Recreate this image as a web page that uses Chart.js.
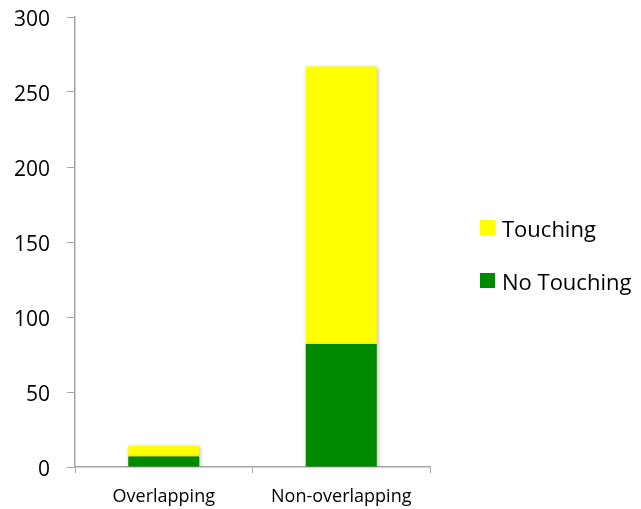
<!DOCTYPE html>
<html>
<head>
<meta charset="utf-8">
<script src="https://cdn.jsdelivr.net/npm/chart.js@4/dist/chart.umd.min.js"></script>
<style>
  html, body { margin: 0; padding: 0; background: #ffffff; }
  #wrap { width: 641px; height: 509px; }
</style>
</head>
<body>
<div id="wrap"><canvas id="c" width="641" height="509"></canvas></div>
<script>
// Categories and stacked counts
const categories = ['Overlapping', 'Non-overlapping'];
const noTouching = [7, 82];
const touching = [7, 185];
const yTicks = [0, 50, 100, 150, 200, 250, 300];

const axisGray = '#a6a6a6';
const labelFont = 'Open Sans';

// soft drop shadow under the bars
const barShadow = {
  id: 'barShadow',
  beforeDatasetsDraw(chart) {
    const ctx = chart.ctx;
    ctx.save();
    ctx.shadowColor = 'rgba(0,0,0,0.28)';
    ctx.shadowBlur = 4;
    ctx.shadowOffsetX = 1;
    ctx.shadowOffsetY = 1;
  },
  afterDatasetsDraw(chart) {
    chart.ctx.restore();
  }
};

// legend to the right of the plot, top series listed first
const sideLegend = {
  id: 'sideLegend',
  afterDraw(chart) {
    const ctx = chart.ctx;
    const sets = chart.data.datasets.slice().reverse();
    const boxX = chart.chartArea.right + 50;
    const firstY = 220;
    const step = 53;
    const box = 15;
    ctx.save();
    ctx.font = '22px "' + labelFont + '"';
    ctx.textBaseline = 'middle';
    ctx.textAlign = 'left';
    sets.forEach((ds, i) => {
      const y = firstY + i * step;
      ctx.fillStyle = ds.backgroundColor;
      ctx.fillRect(boxX, y, box, box);
      ctx.fillStyle = '#000000';
      ctx.fillText(ds.label, boxX + 22, y + box / 2 + 3);
    });
    ctx.restore();
  }
};

new Chart(document.getElementById('c'), {
  type: 'bar',
  data: {
    labels: categories,
    datasets: [
      { label: 'No Touching', data: noTouching, backgroundColor: '#008a00', categoryPercentage: 0.4, barPercentage: 1.0 },
      { label: 'Touching', data: touching, backgroundColor: '#ffff00', categoryPercentage: 0.4, barPercentage: 1.0 }
    ]
  },
  options: {
    responsive: false,
    animation: false,
    layout: { padding: { left: 10, top: 17, right: 211, bottom: 0 } },
    plugins: {
      tooltip: { enabled: false },
      legend: { display: false }
    },
    scales: {
      x: {
        stacked: true,
        afterFit(scale) { scale.height = 42; scale.paddingLeft = 0; scale.paddingRight = 0; },
        grid: { display: true, drawOnChartArea: false, drawTicks: true, tickLength: 6, color: axisGray, offset: true },
        border: { display: true, color: axisGray, width: 1.5 },
        ticks: { color: '#000000', padding: 13, font: { family: labelFont, size: 18 } }
      },
      y: {
        stacked: true,
        min: 0,
        max: 300,
        afterBuildTicks(scale) { scale.ticks = yTicks.map(v => ({ value: v })); },
        afterFit(scale) { scale.width = 65; scale.paddingTop = 0; scale.paddingBottom = 0; },
        grid: { display: true, drawOnChartArea: false, drawTicks: true, tickLength: 8, color: axisGray },
        border: { display: true, color: axisGray, width: 1.5 },
        ticks: { color: '#000000', padding: 17, labelOffset: 3, font: { family: labelFont, size: 21 } }
      }
    }
  },
  plugins: [barShadow, sideLegend]
});
</script>
</body>
</html>
